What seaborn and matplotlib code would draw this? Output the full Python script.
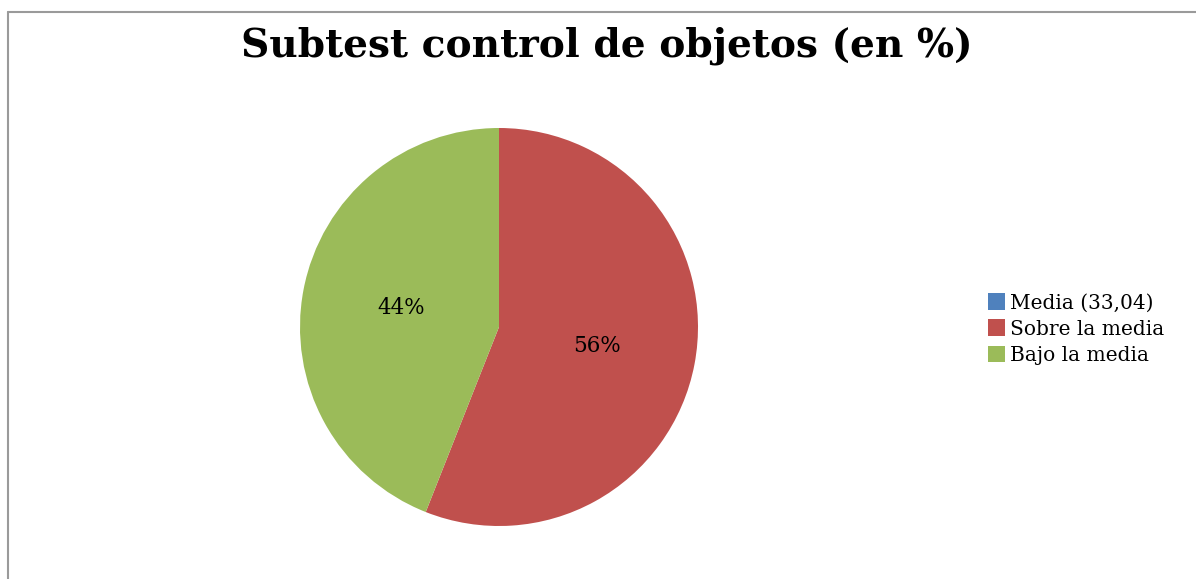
import matplotlib
matplotlib.use("Agg")
import matplotlib.pyplot as plt
import seaborn as sns
import numpy as np
from matplotlib.lines import Line2D
from matplotlib.patches import Patch

categories = ["Media (33,04)", "Sobre la media", "Bajo la media"]
values = [0, 56, 44]
pct_labels = ["", "56%", "44%"]
colors = ["#4F81BD", "#C0504D", "#9BBB59"]

sns.set_style("white")
plt.rcParams["font.family"] = ["DejaVu Serif"]
plt.rcParams["text.color"] = "black"

fig = plt.figure(figsize=(11.96, 5.79), dpi=100)

# pie area: center (499, 327) px, radius ~199 px
cx, cy, r = 499 / 1196, 1 - 327 / 579, 199
ax = fig.add_axes([cx - r / 1196, cy - r / 579, 2 * r / 1196, 2 * r / 579])
wedges, _ = ax.pie(values, colors=colors, startangle=90, counterclock=False,
                   wedgeprops=dict(edgecolor="none", linewidth=0))
ax.set_xlim(-1, 1)
ax.set_ylim(-1, 1)
ax.set_aspect("auto")

# percentage labels placed halfway along each wedge
start = 90.0
total = sum(values)
for v, lab in zip(values, pct_labels):
    span = 360.0 * v / total
    mid = np.deg2rad(start - span / 2)
    start -= span
    if lab:
        ax.text(0.5 * np.cos(mid), 0.5 * np.sin(mid), lab, ha="center",
                va="center", fontsize=15.5, color="black")

fig.text(0.507, 1 - 46 / 579, "Subtest control de objetos (en %)",
         ha="center", va="center", fontsize=28.2, fontweight="bold",
         color="black")

handles = [Patch(facecolor=c, edgecolor="none") for c in colors]
fig.legend(handles, categories, loc="center left",
           bbox_to_anchor=(988 / 1196, 1 - 329 / 579), frameon=False,
           fontsize=14.5, handlelength=0.85, handleheight=0.85,
           handletextpad=0.25, labelspacing=0.35, borderaxespad=0,
           borderpad=0)

# chart frame (left and top edges visible)
fig.add_artist(Line2D([8 / 1196, 8 / 1196], [0, 1 - 12 / 579],
                      color="#9a9a9a", lw=1.5, transform=fig.transFigure))
fig.add_artist(Line2D([8 / 1196, 1], [1 - 12 / 579, 1 - 12 / 579],
                      color="#9a9a9a", lw=1.5, transform=fig.transFigure))

fig.savefig("out.png", dpi=100)
